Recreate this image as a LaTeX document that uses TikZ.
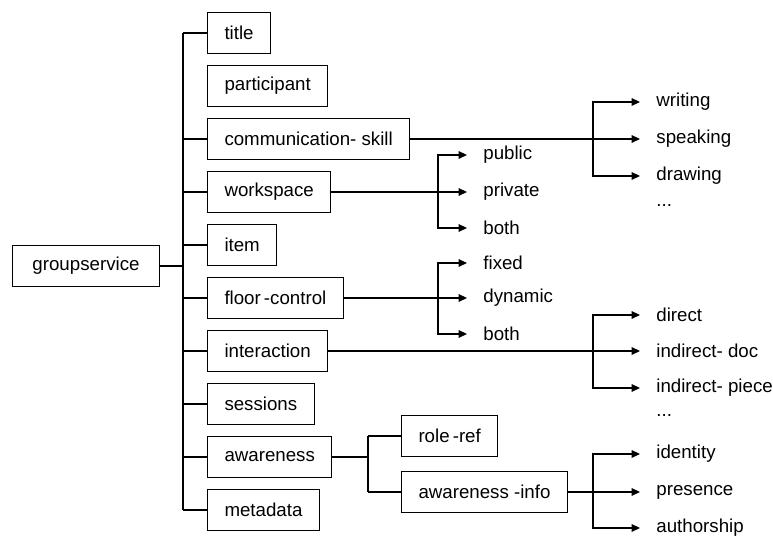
\documentclass[tikz,border=0pt]{standalone}
\usepackage{fontspec}
\setmainfont{Liberation Sans}
\usetikzlibrary{arrows.meta, positioning}
\tikzset{
    block/.style={rectangle, draw=black, fill=white, line width=0.5pt, minimum height=20.5pt, inner xsep=8.5pt, font=\fontsize{9.35pt}{11pt}\selectfont},
    leaf/.style={anchor=west, inner xsep=8pt, inner ysep=1pt, font=\fontsize{9.35pt}{11pt}\selectfont},
    link/.style={line width=0.55pt},
    arrow/.style={line width=0.55pt, -{Triangle[length=4.2pt, width=3.8pt]}}
}

\begin{document}
\begin{tikzpicture}[x=0.5pt, y=0.5pt, node distance=5.5pt]
    \useasboundingbox (0,0) rectangle (773,555);
    % columns of the forks and of the leaves
    \coordinate (bus) at (183,0);
    \coordinate (afork) at (368,0);
    \coordinate (mfork) at (438,0);
    \coordinate (mleaf) at (467,0);
    \coordinate (rfork) at (593,0);
    \coordinate (rleaf) at (640,0);

    \node (groupservice) [block, anchor=west, minimum width=73.5pt] at (12,289) {groupservice};

    \node (title) [block, anchor=west] at (207,522) {title};
    \node (participant) [block, below=of title.south west, anchor=north west] {participant};
    \node (commskill) [block, below=of participant.south west, anchor=north west] {communication- skill};
    \node (workspace) [block, below=of commskill.south west, anchor=north west] {workspace};
    \node (item) [block, below=of workspace.south west, anchor=north west] {item};
    \node (floorctrl) [block, below=of item.south west, anchor=north west] {floor\,-control};
    \node (interaction) [block, below=of floorctrl.south west, anchor=north west] {interaction};
    \node (sessions) [block, below=of interaction.south west, anchor=north west] {sessions};
    \node (awareness) [block, below=of sessions.south west, anchor=north west] {awareness};
    \node (metadata) [block, below=of awareness.south west, anchor=north west] {metadata};

    \node (roleref) [block, anchor=west] at (401,119) {role\,-ref};
    \node (awinfo) [block, below=7pt of roleref.south west, anchor=north west] {awareness -info};

    % leaves
    \node (speaking) [leaf] at (commskill.east -| rleaf) {speaking};
    \node (writing) [leaf, above=18.5pt of speaking.west, anchor=west] {writing};
    \node (drawing) [leaf, below=18.5pt of speaking.west, anchor=west] {drawing};
    \node (moreskill) [leaf, below=15pt of drawing.west, anchor=west] {...};

    \node (private) [leaf] at (workspace.east -| mleaf) {private};
    \node (public) [leaf, above=18.5pt of private.west, anchor=west] {public};
    \node (wsboth) [leaf, below=18pt of private.west, anchor=west] {both};

    \node (dynamic) [leaf] at (floorctrl.east -| mleaf) {dynamic};
    \node (fixed) [leaf, above=17.5pt of dynamic.west, anchor=west] {fixed};
    \node (fcboth) [leaf, below=18pt of dynamic.west, anchor=west] {both};

    \node (inddoc) [leaf] at (interaction.east -| rleaf) {indirect- doc};
    \node (direct) [leaf, above=18pt of inddoc.west, anchor=west] {direct};
    \node (indpiece) [leaf, below=18.5pt of inddoc.west, anchor=west] {indirect- piece};
    \node (moreinter) [leaf, below=14pt of indpiece.west, anchor=west] {...};

    \node (presence) [leaf] at (awinfo.east -| rleaf) {presence};
    \node (identity) [leaf, above=19pt of presence.west, anchor=west] {identity};
    \node (authorship) [leaf, below=18pt of presence.west, anchor=west] {authorship};

    % main bus
    \draw [link] (groupservice) -- (groupservice -| bus);
    \draw [link] (title.west -| bus) -- (metadata.west -| bus);
    \foreach \kid in {title, commskill, workspace, item, floorctrl, interaction, sessions, awareness, metadata}
        \draw [link] (\kid.west -| bus) -- (\kid);

    % awareness
    \draw [link] (awareness) -- (awareness -| afork);
    \draw [link] (roleref.west -| afork) -- (awinfo.west -| afork);
    \foreach \kid in {roleref, awinfo}
        \draw [link] (\kid.west -| afork) -- (\kid);

    % forks with arrows
    \draw [arrow] (commskill) -- (speaking);
    \foreach \kid in {writing, drawing}
        \draw [arrow] (speaking.west -| rfork) |- (\kid);

    \draw [arrow] (workspace) -- (private);
    \foreach \kid in {public, wsboth}
        \draw [arrow] (private.west -| mfork) |- (\kid);

    \draw [arrow] (floorctrl) -- (dynamic);
    \foreach \kid in {fixed, fcboth}
        \draw [arrow] (dynamic.west -| mfork) |- (\kid);

    \draw [arrow] (interaction) -- (inddoc);
    \foreach \kid in {direct, indpiece}
        \draw [arrow] (inddoc.west -| rfork) |- (\kid);

    \draw [arrow] (awinfo) -- (presence);
    \foreach \kid in {identity, authorship}
        \draw [arrow] (presence.west -| rfork) |- (\kid);
\end{tikzpicture}
\end{document}
